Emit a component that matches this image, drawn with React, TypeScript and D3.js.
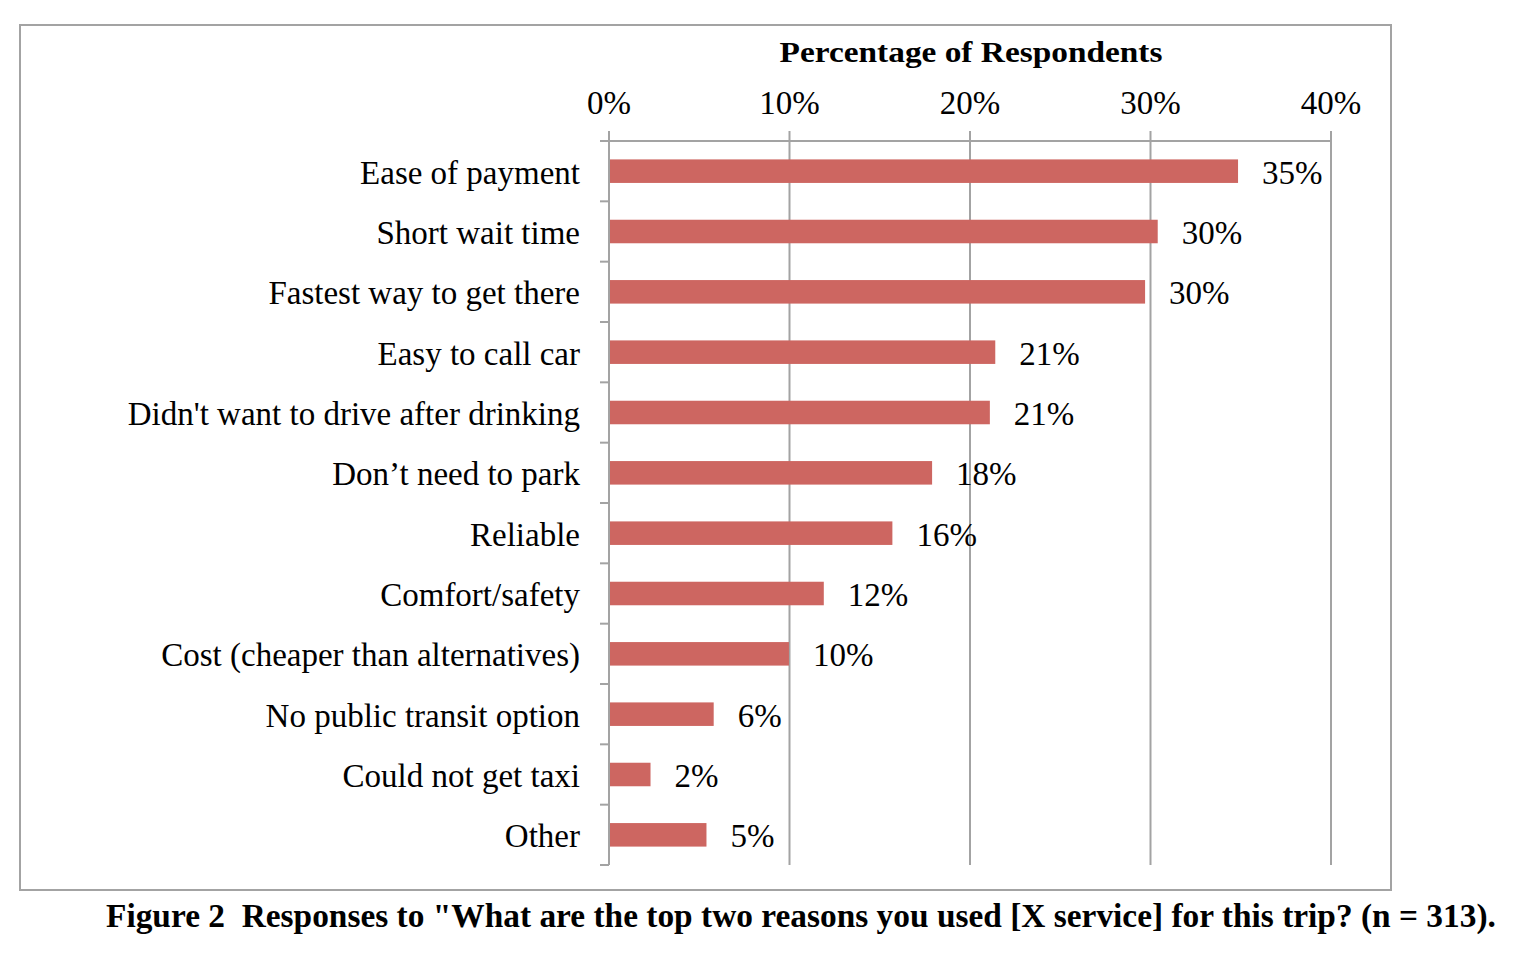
import { useRef, useEffect } from 'react';
import * as d3 from 'd3';

const categories = [
  'Ease of payment',
  'Short wait time',
  'Fastest way to get there',
  'Easy to call car',
  "Didn't want to drive after drinking",
  'Don\u2019t need to park',
  'Reliable',
  'Comfort/safety',
  'Cost (cheaper than alternatives)',
  'No public transit option',
  'Could not get taxi',
  'Other',
];
const values = [34.85, 30.4, 29.7, 21.4, 21.1, 17.9, 15.7, 11.9, 9.97, 5.8, 2.3, 5.4];
const ticks = [0, 10, 20, 30, 40];

const W = 1522;
const H = 965;
const FONT = '"Liberation Serif", "Times New Roman", serif';
const GRID = '#a3a3a3';

export default function App() {
  const svgRef = useRef<SVGSVGElement>(null);

  useEffect(() => {
    if (!svgRef.current) return;
    const svg = d3.select(svgRef.current);
    svg.selectAll('*').remove();

    const x = d3.scaleLinear().domain([0, 40]).range([609, 1331]);
    const y = d3.scaleBand<string>()
      .domain(categories)
      .range([141, 865])
      .paddingInner(0.61)
      .paddingOuter(0.305);
    const step = y.step();

    // frame
    svg.append('rect')
      .attr('x', 20).attr('y', 25)
      .attr('width', 1371).attr('height', 865)
      .attr('fill', 'none')
      .attr('stroke', GRID)
      .attr('stroke-width', 2);

    // vertical gridlines
    svg.append('g').selectAll('line')
      .data(ticks)
      .join('line')
      .attr('x1', (d) => x(d)).attr('x2', (d) => x(d))
      .attr('y1', 131).attr('y2', 865)
      .attr('stroke', GRID)
      .attr('stroke-width', 2);

    // top axis line
    svg.append('line')
      .attr('x1', 600).attr('x2', x(40))
      .attr('y1', 141).attr('y2', 141)
      .attr('stroke', GRID)
      .attr('stroke-width', 2);

    // left axis ticks at band boundaries
    const bounds = d3.range(categories.length + 1).map((i) => 141 + i * step);
    svg.append('g').selectAll('line')
      .data(bounds)
      .join('line')
      .attr('x1', 600).attr('x2', 609)
      .attr('y1', (d) => d).attr('y2', (d) => d)
      .attr('stroke', GRID)
      .attr('stroke-width', 2);

    // bars
    const rows = categories.map((c, i) => ({ c, v: values[i] }));
    svg.append('g').selectAll('rect')
      .data(rows)
      .join('rect')
      .attr('x', x(0) + 1)
      .attr('y', (d) => y(d.c)!)
      .attr('width', (d) => x(d.v) - x(0) - 1)
      .attr('height', y.bandwidth())
      .attr('fill', '#cd6661');

    // category labels
    svg.append('g').selectAll('text')
      .data(rows)
      .join('text')
      .attr('x', 580)
      .attr('y', (d) => y(d.c)! + y.bandwidth() / 2 + 12.5)
      .attr('text-anchor', 'end')
      .attr('font-family', FONT)
      .attr('font-size', 33)
      .attr('fill', '#000')
      .text((d) => d.c);

    // value labels
    svg.append('g').selectAll('text')
      .data(rows)
      .join('text')
      .attr('x', (d) => x(d.v) + 24)
      .attr('y', (d) => y(d.c)! + y.bandwidth() / 2 + 12.5)
      .attr('font-family', FONT)
      .attr('font-size', 33)
      .attr('fill', '#000')
      .text((d) => `${Math.round(d.v)}%`);

    // tick labels
    svg.append('g').selectAll('text')
      .data(ticks)
      .join('text')
      .attr('x', (d) => x(d))
      .attr('y', 114)
      .attr('text-anchor', 'middle')
      .attr('font-family', FONT)
      .attr('font-size', 33)
      .attr('fill', '#000')
      .text((d) => `${d}%`);

    // axis title (slightly wide, short glyphs)
    svg.append('text')
      .attr('transform', `translate(${(x(0) + x(40)) / 2 + 1},62) scale(1.15,1)`)
      .attr('text-anchor', 'middle')
      .attr('font-family', FONT)
      .attr('font-size', 29)
      .attr('font-weight', 'bold')
      .attr('fill', '#000')
      .text('Percentage of Respondents');

    // caption
    svg.append('text')
      .attr('transform', 'translate(106,927) scale(1.012,1)')
      .attr('font-family', FONT)
      .attr('font-size', 33)
      .attr('font-weight', 'bold')
      .attr('fill', '#000')
      .style('white-space', 'pre')
      .text('Figure 2  Responses to "What are the top two reasons you used [X service] for this trip? (n = 313).');
  }, []);

  return (
    <svg
      ref={svgRef}
      width={W}
      height={H}
      style={{ position: 'absolute', left: 0, top: 0, background: '#fff' }}
    />
  );
}
